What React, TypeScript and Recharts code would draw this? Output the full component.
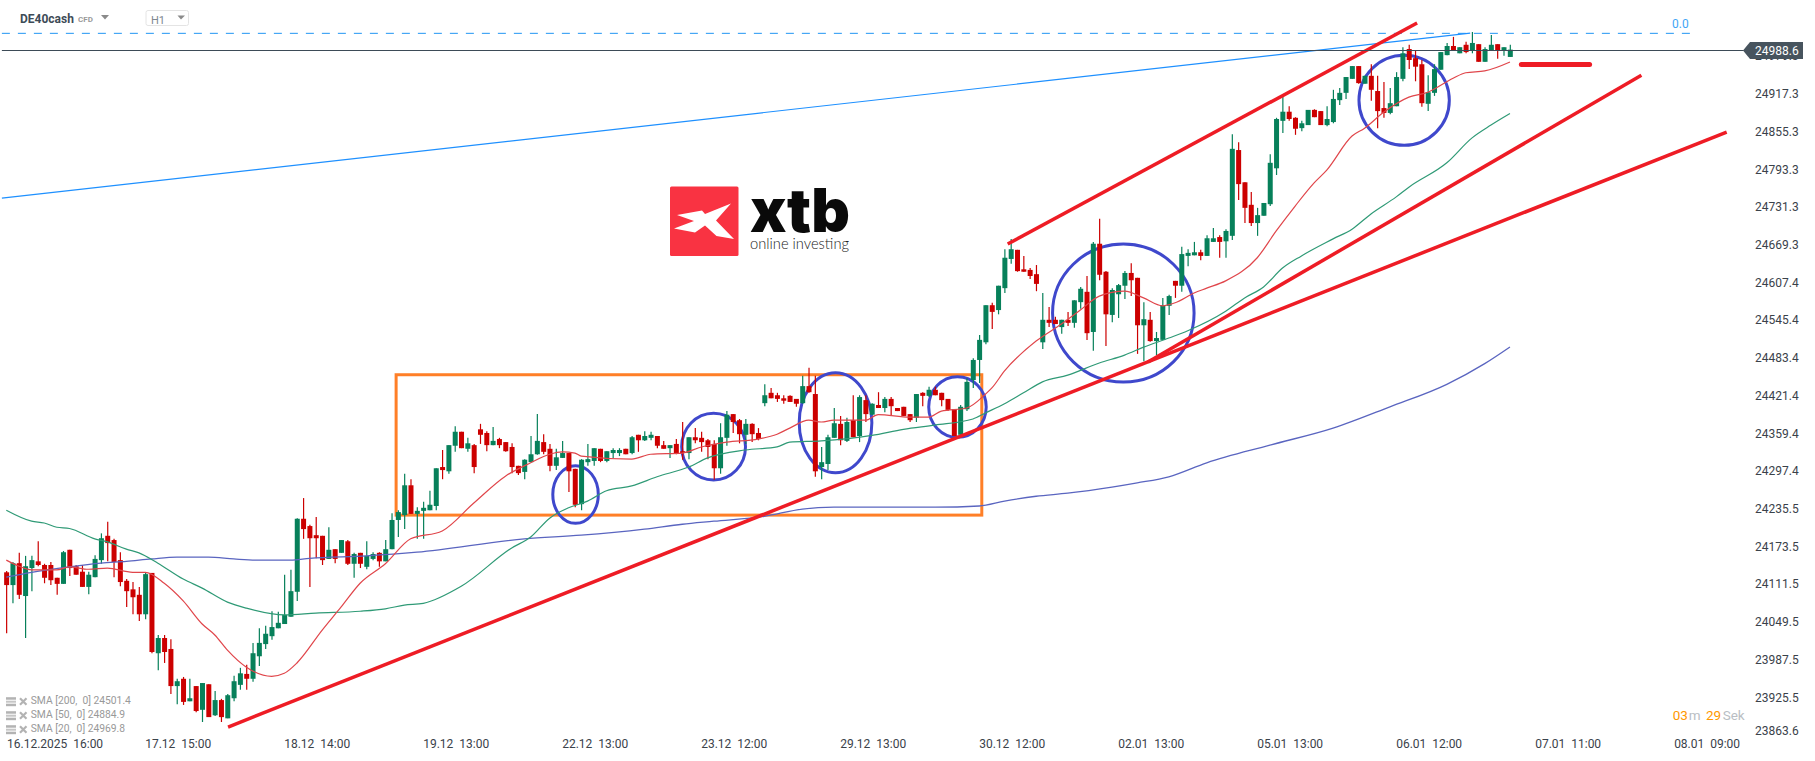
import React from 'react';
import {
  ComposedChart,
  Bar,
  Line,
  XAxis,
  YAxis,
  ReferenceLine,
  ReferenceArea,
} from 'recharts';

const opens = [24131,24110,24146,24092,24138,24149,24143,24143,24122,24112,24168,24141,24132,24107,24123,24151,24191,24184,24151,24117,24103,24094,24062,24130,23998,24023,24005,23944,23956,23919,23944,23905,23947,23896,23921,23891,23924,23946,23964,23956,23993,24013,24026,24039,24046,24058,24099,24219,24207,24192,24191,24153,24169,24163,24182,24145,24163,24140,24153,24163,24149,24169,24217,24225,24274,24227,24232,24233,24240,24304,24297,24339,24362,24334,24340,24366,24360,24340,24350,24345,24337,24306,24296,24312,24325,24345,24334,24306,24319,24327,24301,24243,24312,24314,24334,24314,24327,24327,24334,24327,24357,24348,24352,24355,24340,24335,24342,24330,24327,24353,24352,24348,24342,24302,24352,24391,24381,24357,24375,24360,24409,24426,24422,24417,24421,24416,24409,24437,24424,24304,24309,24352,24375,24347,24381,24355,24414,24390,24406,24401,24416,24401,24403,24391,24385,24426,24421,24431,24426,24416,24399,24357,24399,24447,24480,24509,24570,24562,24598,24646,24661,24629,24628,24621,24509,24546,24546,24534,24546,24541,24575,24592,24526,24671,24625,24554,24588,24602,24623,24615,24537,24546,24511,24513,24569,24610,24602,24651,24652,24657,24651,24674,24682,24675,24684,24825,24772,24735,24705,24717,24736,24795,24873,24888,24878,24861,24866,24891,24889,24866,24871,24907,24919,24942,24963,24934,24947,24922,24894,24886,24897,24942,24991,24976,24966,24901,24919,24957,24981,24996,24984,24998,24988,24999,24970,24989,24999,24989,24978];
const highs = [24133,24148,24163,24158,24158,24182,24145,24148,24122,24166,24168,24143,24143,24132,24159,24195,24214,24186,24164,24120,24115,24107,24130,24130,24028,24028,24021,23956,23959,23956,23944,23949,23947,23936,23923,23931,23961,23974,23979,24015,24039,24043,24067,24066,24127,24135,24220,24253,24209,24222,24191,24205,24169,24184,24184,24163,24163,24182,24164,24164,24184,24228,24233,24293,24284,24238,24247,24265,24302,24332,24340,24371,24362,24352,24342,24375,24363,24370,24352,24345,24343,24306,24317,24355,24391,24358,24342,24334,24347,24327,24301,24317,24342,24335,24334,24330,24335,24335,24334,24355,24357,24363,24362,24355,24347,24340,24350,24378,24353,24368,24362,24350,24348,24376,24396,24391,24383,24383,24376,24368,24440,24434,24426,24422,24422,24416,24454,24467,24454,24337,24357,24401,24388,24385,24422,24422,24422,24409,24427,24419,24419,24401,24403,24391,24424,24427,24436,24436,24426,24416,24399,24406,24450,24483,24521,24570,24574,24602,24662,24679,24661,24651,24631,24636,24590,24567,24551,24546,24559,24578,24600,24618,24674,24712,24626,24598,24605,24626,24639,24615,24575,24559,24526,24582,24587,24610,24666,24662,24674,24661,24685,24697,24685,24695,24851,24838,24772,24756,24730,24738,24818,24878,24912,24897,24879,24873,24891,24892,24889,24897,24924,24927,24945,24963,24963,24947,24966,24947,24937,24927,24953,24994,24998,24988,24973,24948,24966,24986,25001,25011,24994,25003,25019,24999,24994,25014,24999,24994,24998];
const lows = [24031,24080,24087,24023,24100,24141,24113,24110,24094,24112,24125,24127,24107,24095,24123,24145,24149,24123,24108,24074,24062,24051,24054,23998,23970,23982,23931,23914,23913,23919,23901,23885,23893,23895,23885,23891,23919,23938,23938,23951,23977,24005,24020,24039,24046,24058,24084,24186,24107,24154,24143,24153,24146,24163,24143,24122,24138,24136,24151,24140,24149,24169,24189,24202,24227,24186,24186,24233,24233,24284,24293,24329,24335,24329,24294,24342,24330,24340,24335,24329,24294,24291,24284,24312,24324,24325,24297,24299,24319,24263,24238,24233,24306,24306,24312,24312,24319,24322,24325,24325,24329,24347,24348,24335,24334,24319,24325,24316,24317,24343,24329,24317,24283,24293,24339,24360,24343,24342,24345,24348,24404,24417,24411,24408,24411,24403,24408,24426,24288,24284,24299,24352,24340,24345,24353,24345,24378,24390,24401,24394,24388,24396,24388,24378,24378,24404,24419,24422,24404,24396,24355,24357,24396,24434,24442,24506,24531,24555,24590,24638,24625,24625,24613,24593,24498,24534,24539,24523,24536,24533,24564,24513,24495,24611,24503,24542,24549,24580,24585,24490,24478,24510,24488,24513,24554,24582,24592,24634,24652,24644,24651,24674,24648,24648,24677,24743,24705,24700,24684,24717,24733,24784,24853,24873,24850,24856,24866,24879,24866,24864,24869,24899,24909,24942,24934,24934,24906,24861,24878,24884,24897,24938,24958,24938,24896,24889,24914,24957,24981,24988,24984,24984,24984,24970,24970,24988,24975,24980,24978];
const closes = [24110,24146,24094,24141,24151,24143,24122,24118,24112,24164,24138,24127,24107,24127,24153,24187,24179,24148,24115,24100,24090,24062,24128,24000,24023,24000,23944,23952,23918,23924,23903,23949,23893,23921,23893,23929,23952,23965,23956,23998,24015,24030,24041,24048,24061,24100,24219,24202,24187,24187,24151,24168,24153,24184,24145,24161,24145,24158,24161,24149,24169,24217,24230,24274,24227,24232,24237,24242,24302,24299,24340,24362,24335,24343,24304,24357,24340,24347,24340,24330,24304,24294,24316,24325,24347,24329,24306,24320,24327,24297,24242,24316,24317,24335,24314,24330,24332,24332,24325,24353,24348,24355,24357,24339,24334,24340,24327,24327,24353,24348,24345,24337,24302,24353,24390,24378,24358,24375,24358,24350,24422,24417,24416,24413,24411,24408,24437,24427,24297,24312,24353,24376,24348,24378,24353,24419,24391,24408,24401,24416,24404,24396,24388,24381,24424,24421,24431,24422,24414,24398,24355,24403,24444,24480,24513,24570,24559,24602,24648,24662,24626,24625,24618,24605,24546,24541,24539,24546,24541,24578,24597,24524,24671,24620,24555,24595,24603,24623,24611,24537,24547,24511,24516,24570,24585,24602,24654,24656,24657,24651,24680,24680,24674,24692,24827,24769,24730,24705,24718,24738,24804,24876,24888,24876,24860,24869,24891,24879,24866,24876,24909,24919,24945,24963,24935,24947,24924,24889,24886,24902,24945,24984,24973,24962,24902,24920,24958,24986,24996,24989,24994,24986,25001,24970,24991,24998,24989,24994,24990];

const sma20Index = [0,2,4,8,10,13,16,20,22,25,28,31,33,35,38,42,44,46,50,53,56,60,64,69,74,79,83,86,88,90,91,99,102,107,110,114,119,122,124,127,129,131,136,138,143,146,148,152,155,156,158,163,167,170,173,177,180,183,185,188,190,193,198,201,204,207,209,213,215,218,222,225,229,231,234,238];
const sma20Values = [24151,24141,24135,24135,24140,24136,24138,24131,24131,24113,24084,24046,24028,24003,23975,23960,23965,23982,24036,24074,24113,24145,24186,24199,24245,24289,24311,24325,24329,24327,24322,24317,24325,24327,24337,24345,24350,24358,24368,24381,24378,24381,24381,24390,24386,24386,24396,24401,24424,24434,24462,24511,24539,24562,24585,24593,24582,24569,24574,24590,24598,24610,24648,24692,24733,24771,24792,24848,24861,24887,24912,24920,24943,24952,24955,24969.8];
const sma50Index = [0,4,6,8,10,14,16,19,21,24,28,31,35,38,44,49,56,60,63,66,72,80,83,86,89,92,95,99,103,108,111,117,122,124,129,137,142,147,153,155,158,161,164,168,173,177,180,184,187,193,196,199,202,205,210,213,216,220,222,228,232,235,238];
const sma50Values = [24233,24215,24212,24205,24203,24186,24181,24169,24163,24146,24120,24105,24082,24072,24061,24064,24067,24071,24077,24080,24108,24171,24189,24220,24237,24248,24265,24273,24288,24304,24319,24332,24337,24345,24347,24356,24366,24373,24383,24393,24408,24426,24444,24455,24475,24488,24501,24516,24528,24560,24582,24600,24631,24651,24679,24695,24720,24748,24764,24804,24845,24866,24884.9];
const sma200Index = [0,4,10,15,19,23,27,32,36,40,45,48,57,65,82,91,101,107,112,120,126,131,137,147,154,158,163,168,175,179,184,190,200,210,219,228,234,238];
const sma200Values = [24123,24131,24140,24146,24149,24153,24156,24156,24153,24151,24151,24154,24158,24164,24186,24192,24202,24210,24215,24223,24235,24238,24238,24238,24240,24248,24256,24261,24271,24278,24288,24311,24340,24368,24403,24440,24474,24501.4];

const priceTicks = [24979.3,24917.3,24855.3,24793.3,24731.3,24669.3,24607.4,24545.4,24483.4,24421.4,24359.4,24297.4,24235.5,24173.5,24111.5,24049.5,23987.5,23925.5,23863.6];
const timeTickIndex = [5,27,49,71,93,115,137,159,181,203,225,247,269];
const timeTickLabels = ['16.12.2025  16:00','17.12  15:00','18.12  14:00','19.12  13:00','22.12  13:00','23.12  12:00','29.12  13:00','30.12  12:00','02.01  13:00','05.01  13:00','06.01  12:00','07.01  11:00','08.01  09:00'];

const lastPrice = 24988.6;
const fibPrice = 25016.8;
// trend lines as [index, price, index, price]
const redLines = [
  [35.1, 23876.7, 272.3, 24854.6],
  [180.7, 24476.6, 258.8, 24947.8],
  [158.5, 24670.6, 223.3, 25033.8],
];
const targetLine = [239.8, 24965.6, 250.6, 24965.6];
const blueLine = [-0.7, 24746, 231.7, 25017];
const fibLine = [-0.7, fibPrice, 266.5, fibPrice];
const lastLine = [-0.7, lastPrice, 275, lastPrice];
const rangeBox = [61.7, 154.4, 24225, 24455.7];
// circles as [index from, index to, price low, price high]
const circles = [
  [86.5, 93.7, 24211.5, 24306.2],
  [106.9, 117.0, 24282.7, 24392.3],
  [125.5, 137.0, 24294.7, 24459],
  [146.0, 155.1, 24352.8, 24452.5],
  [165.6, 188.0, 24443.7, 24670.6],
  [214.1, 228.4, 24832.8, 24980.7],
];
const legendRows = ['SMA [200,  0] 24501.4', 'SMA [50,  0] 24884.9', 'SMA [20,  0] 24969.8'];

const rows = opens.map((open, i) => ({
  i,
  open,
  high: highs[i],
  low: lows[i],
  close: closes[i],
  range: [lows[i], highs[i]],
  sma20: sma20Index.includes(i) ? sma20Values[sma20Index.indexOf(i)] : null,
  sma50: sma50Index.includes(i) ? sma50Values[sma50Index.indexOf(i)] : null,
  sma200: sma200Index.includes(i) ? sma200Values[sma200Index.indexOf(i)] : null,
}));

const FONT = 'Roboto, sans-serif';
const UP = '#07805a';
const DOWN = '#cc0000';
const RED_LINE = '#ee1c25';
const CIRCLE = '#3f48cc';

const Candle = (props: any) => {
  const { x, y, width, height, payload } = props;
  const { open, high, low, close } = payload;
  const perUnit = height / (high - low);
  const color = close >= open ? UP : DOWN;
  const top = y + (high - Math.max(open, close)) * perUnit;
  const bodyH = Math.max(Math.abs(open - close) * perUnit, 1);
  const mid = x + width / 2;
  return (
    <g>
      <line x1={mid} x2={mid} y1={y} y2={y + height} stroke={color} strokeWidth={1.2} />
      <rect x={x} y={top} width={width} height={bodyH} fill={color} />
    </g>
  );
};

const Ellipse = (props: any) => {
  const { x, y, width, height } = props;
  return (
    <ellipse
      cx={x + width / 2}
      cy={y + height / 2}
      rx={width / 2}
      ry={height / 2}
      fill="none"
      stroke={CIRCLE}
      strokeWidth={3}
    />
  );
};

const Box = (props: any) => {
  const { x, y, width, height } = props;
  return <rect x={x} y={y} width={width} height={height} fill="none" stroke="#ff7f27" strokeWidth={3} />;
};

const PriceTick = (props: any) => {
  const { y, payload } = props;
  const shown = Math.min(y + 1, 732);
  return (
    <text x={1755} y={shown} dominantBaseline="middle" fontFamily={FONT} fontSize={12} fill="#3a424a">
      {payload.value.toFixed(1)}
    </text>
  );
};

const TimeTick = (props: any) => {
  const { x, payload } = props;
  const label = timeTickLabels[timeTickIndex.indexOf(payload.value)];
  const first = payload.value === timeTickIndex[0];
  return (
    <text
      x={first ? 7 : x + 1.3}
      y={745}
      textAnchor={first ? 'start' : 'middle'}
      dominantBaseline="middle"
      fontFamily={FONT}
      fontSize={12}
      fill="#3a424a"
      style={{ whiteSpace: 'pre' }}
    >
      {label}
    </text>
  );
};

const Overlay = () => (
  <svg
    width={1815}
    height={761}
    style={{ position: 'absolute', left: 0, top: 0, pointerEvents: 'none' }}
    fontFamily={FONT}
  >
    <text x={20} y={23} fontSize={12} fontWeight={700} fill="#3d4b57">DE40cash</text>
    <text x={78} y={22} fontSize={8} fontWeight={700} fill="#9a9a9a">CFD</text>
    <polygon points="101,15 109,15 105,19.5" fill="#8a8a8a" />
    <rect x={146} y={10.5} width={42.5} height={15} rx={2} fill="#fff" stroke="#e4e4e4" />
    <text x={151} y={23.5} fontSize={11} fill="#808890">H1</text>
    <polygon points="177.5,15.5 185,15.5 181,19.5" fill="#8a8a8a" />
    <text x={1672} y={28} fontSize={12} fill="#42a5f5">0.0</text>

    <polygon points="1743,50.5 1750,42 1803,42 1803,59 1750,59" fill="#47545e" />
    <text x={1755} y={51.5} dominantBaseline="middle" fontSize={12} fill="#ffffff">{lastPrice.toFixed(1)}</text>

    <rect x={670} y={186.5} width={68.5} height={69.5} rx={1.5} fill="#f93342" />
    <polygon
      points="677,215 702,210.5 705,214 731,203.5 716,220.5 734,239 716.5,236 705,225.5 695,232.5 674,228.5 694,221"
      fill="#ffffff"
    />
    <text
      x={750}
      y={232}
      fontSize={60}
      fontWeight={900}
      fontFamily="Inter, sans-serif"
      fill="#0a0a0a"
      textLength={100}
      lengthAdjust="spacingAndGlyphs"
    >
      xtb
    </text>
    <text
      x={750}
      y={249}
      fontSize={15}
      fontFamily="Lato, sans-serif"
      fontWeight={300}
      fill="#222"
      textLength={99}
      lengthAdjust="spacingAndGlyphs"
    >
      online investing
    </text>

    {legendRows.map((row, k) => {
      const y = 701.7 + k * 14;
      return (
        <g key={row}>
          <rect x={6} y={y - 4.5} width={10} height={2.5} fill="#b3b3b3" />
          <rect x={6} y={y - 1} width={10} height={2} fill="#c6c6c6" />
          <rect x={6} y={y + 2} width={10} height={2.5} fill="#b3b3b3" />
          <path d={`M20 ${y - 3.5} L26.5 ${y + 3} M26.5 ${y - 3.5} L20 ${y + 3}`} stroke="#b3b3b3" strokeWidth={2.2} />
          <text
            x={30.7}
            y={y}
            dominantBaseline="middle"
            fontSize={10.3}
            fill="#999999"
            style={{ whiteSpace: 'pre' }}
          >
            {row}
          </text>
        </g>
      );
    })}

    <g fontSize={13.5} dominantBaseline="middle">
      <text x={1672.7} y={716} fill="#ff9800">03</text>
      <text x={1688.7} y={716} fill="#b9bec3">m</text>
      <text x={1706} y={716} fill="#ff9800">29</text>
      <text x={1722.7} y={716} fill="#b9bec3">Sek</text>
    </g>
  </svg>
);

const segment = (s: number[]) => [
  { x: s[0], y: s[1] },
  { x: s[2], y: s[3] },
];

const App: React.FC = () => {
  return (
    <div style={{ position: 'absolute', left: 0, top: 0, width: 1815, height: 761, background: '#fff', overflow: 'hidden' }}>
      <ComposedChart width={1815} height={761} data={rows} margin={{ top: 0, right: 0, bottom: 0, left: 0 }}>
        <XAxis
          dataKey="i"
          type="number"
          domain={[-0.997, 275.2]}
          ticks={timeTickIndex}
          interval={0}
          height={26}
          axisLine={false}
          tickLine={false}
          tick={<TimeTick />}
          allowDataOverflow
        />
        <YAxis
          orientation="right"
          type="number"
          domain={[23863.6, 25071.6]}
          ticks={priceTicks}
          interval={0}
          width={70}
          axisLine={false}
          tickLine={false}
          tick={<PriceTick />}
          allowDataOverflow
        />
        <ReferenceLine segment={segment(fibLine)} stroke="#2196f3" strokeDasharray="8 8" ifOverflow="visible" />
        <Bar dataKey="range" barSize={5} shape={<Candle />} isAnimationActive={false} />
        <Line type="monotone" dataKey="sma200" stroke="#5a65c0" strokeWidth={1.3} dot={false} activeDot={false} connectNulls isAnimationActive={false} />
        <Line type="monotone" dataKey="sma50" stroke="#2f9a76" strokeWidth={1.2} dot={false} activeDot={false} connectNulls isAnimationActive={false} />
        <Line type="monotone" dataKey="sma20" stroke="#e0464b" strokeWidth={1.2} dot={false} activeDot={false} connectNulls isAnimationActive={false} />
        <ReferenceLine segment={segment(blueLine)} stroke="#1e90ff" strokeWidth={1.2} ifOverflow="visible" />
        <ReferenceArea
          x1={rangeBox[0]}
          x2={rangeBox[1]}
          y1={rangeBox[2]}
          y2={rangeBox[3]}
          shape={<Box />}
          ifOverflow="visible"
        />
        {circles.map((c) => (
          <ReferenceArea key={c[0]} x1={c[0]} x2={c[1]} y1={c[2]} y2={c[3]} shape={<Ellipse />} ifOverflow="visible" />
        ))}
        {redLines.map((s) => (
          <ReferenceLine key={s[0]} segment={segment(s)} stroke={RED_LINE} strokeWidth={3.5} ifOverflow="visible" />
        ))}
        <ReferenceLine segment={segment(targetLine)} stroke={RED_LINE} strokeWidth={5} strokeLinecap="round" ifOverflow="visible" />
        <ReferenceLine segment={segment(lastLine)} stroke="#3d4b57" strokeWidth={1.2} ifOverflow="visible" />
      </ComposedChart>
      <Overlay />
    </div>
  );
};

export default App;
